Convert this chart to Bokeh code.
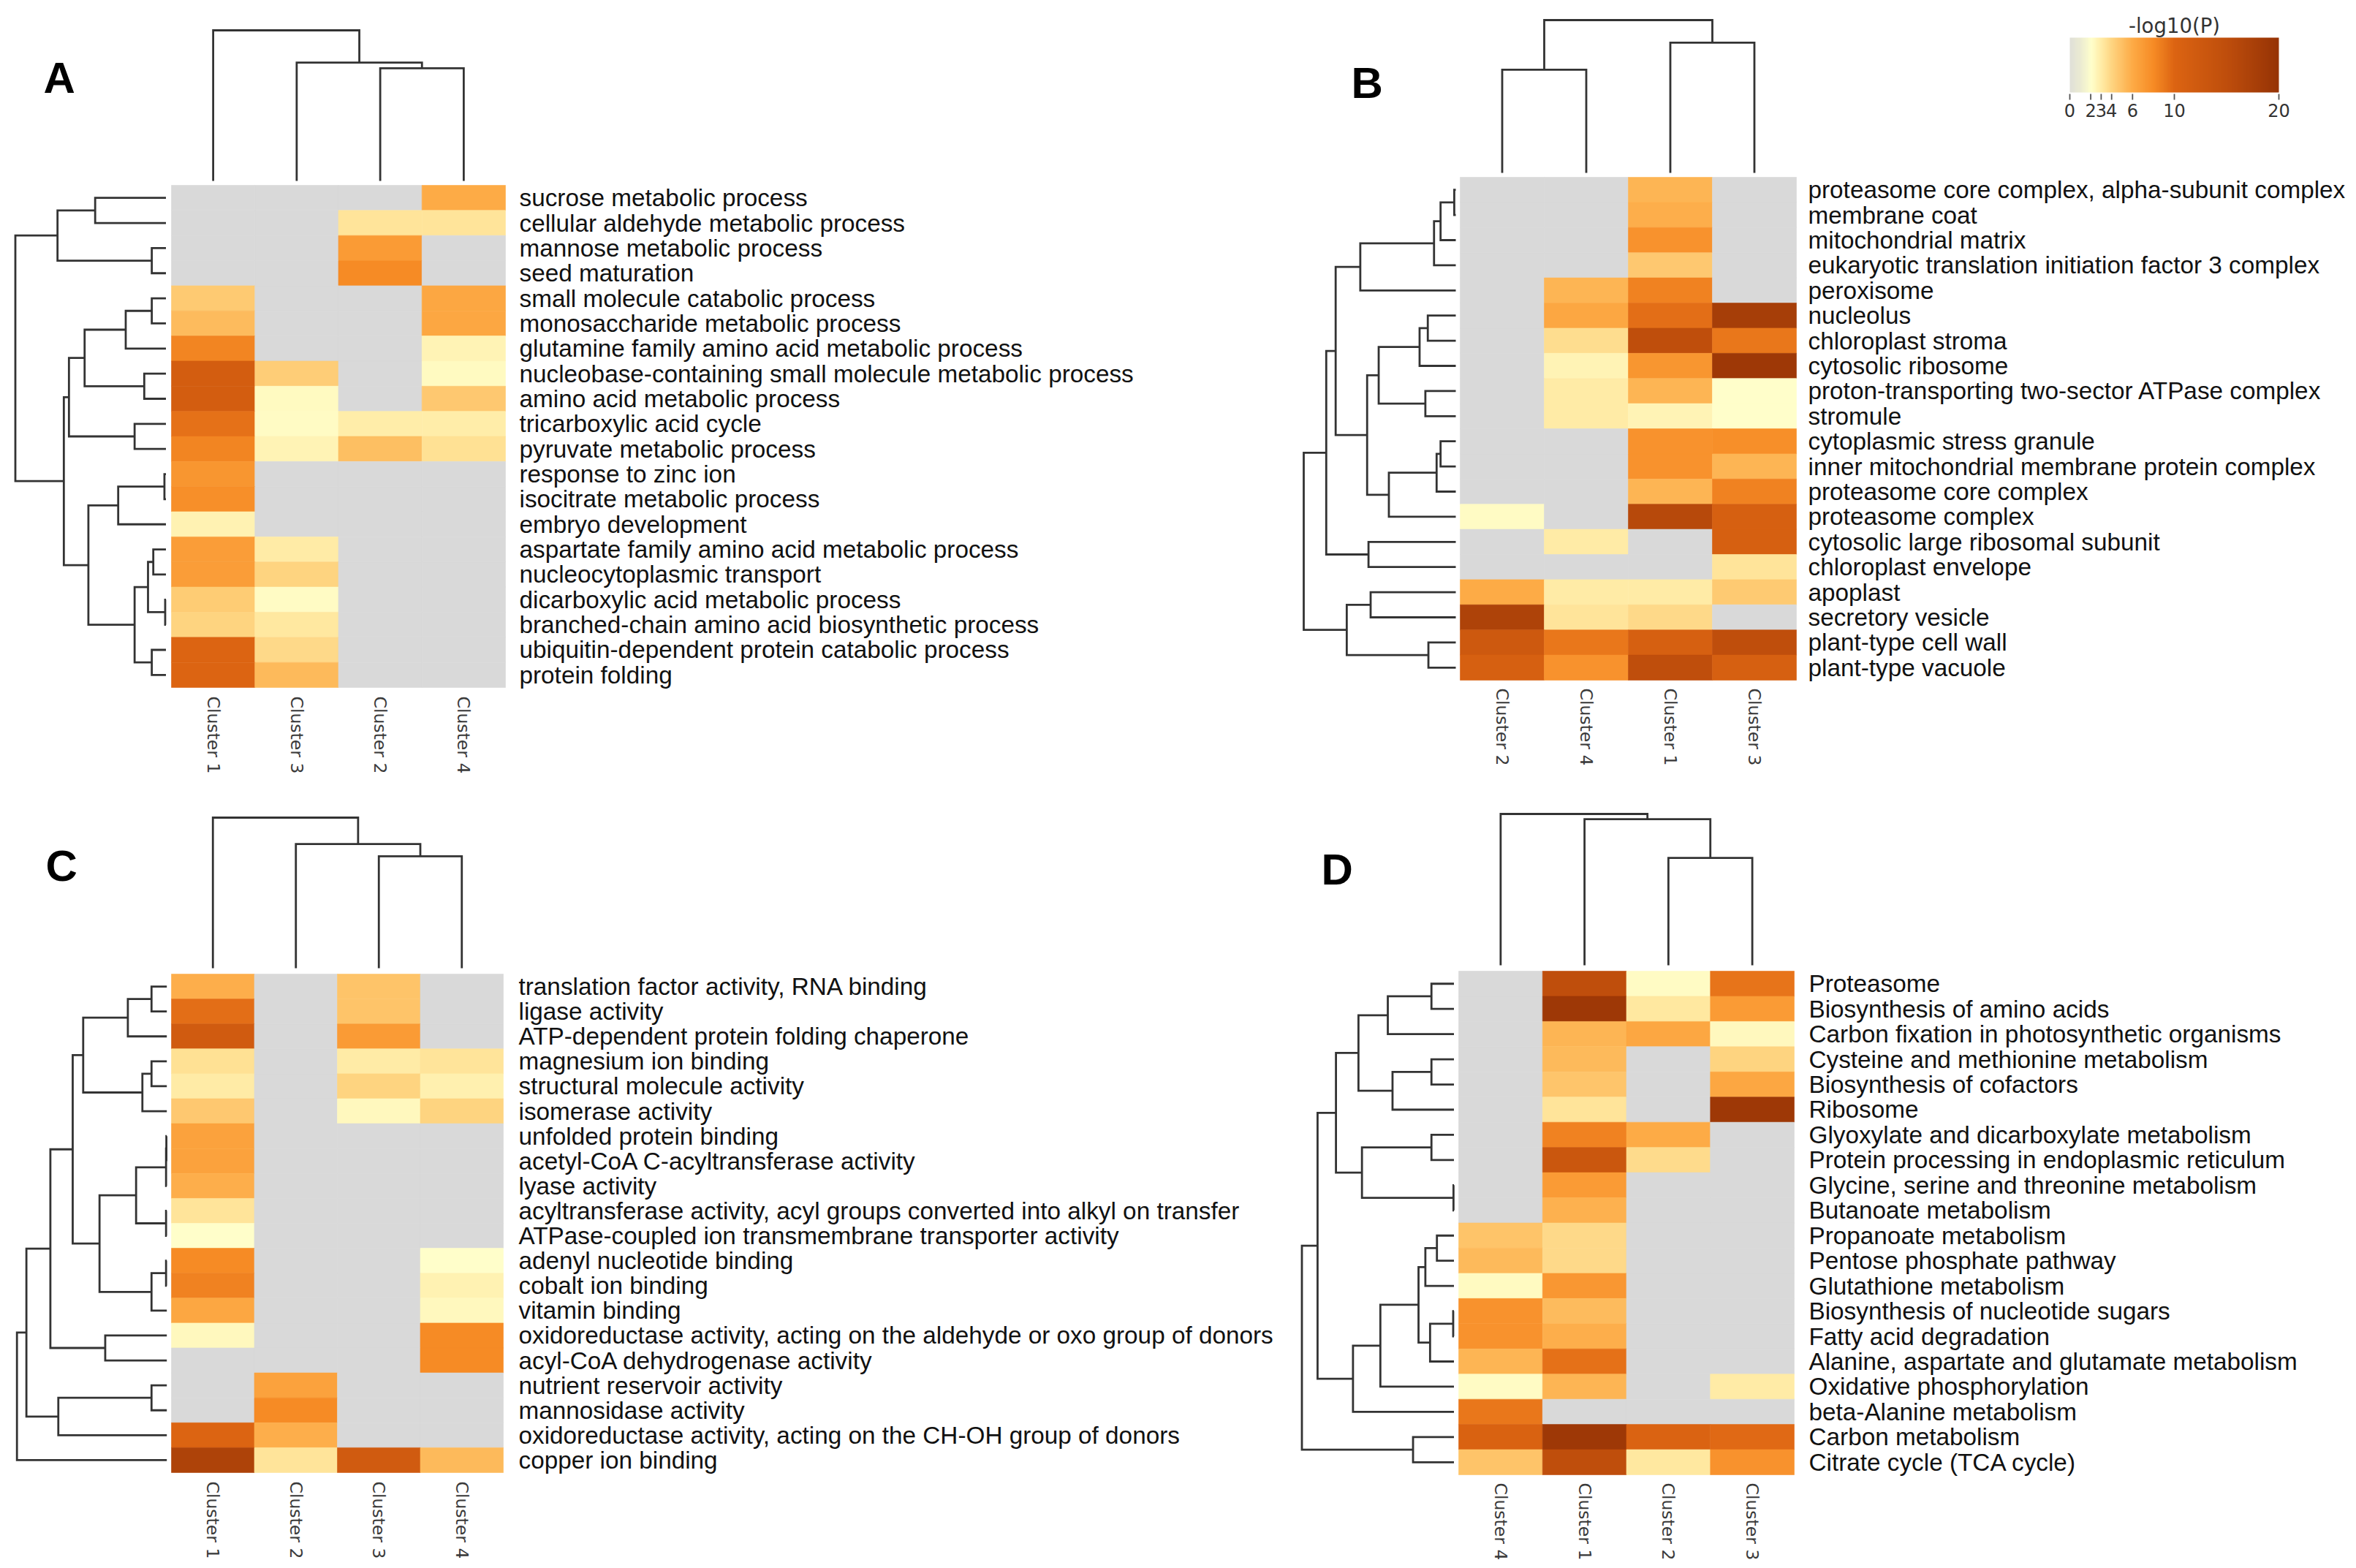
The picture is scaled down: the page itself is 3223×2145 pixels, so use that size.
import numpy as np
from bokeh.plotting import figure
from bokeh.models import ColumnDataSource, Range1d, LinearColorMapper
from bokeh.layouts import column, row
from bokeh.core.properties import value
from bokeh.embed import file_html
from bokeh.resources import INLINE

N = None

# ---------------- DATA ----------------
A_rows = ["sucrose metabolic process", "cellular aldehyde metabolic process",
          "mannose metabolic process", "seed maturation",
          "small molecule catabolic process", "monosaccharide metabolic process",
          "glutamine family amino acid metabolic process",
          "nucleobase-containing small molecule metabolic process",
          "amino acid metabolic process", "tricarboxylic acid cycle",
          "pyruvate metabolic process", "response to zinc ion",
          "isocitrate metabolic process", "embryo development",
          "aspartate family amino acid metabolic process",
          "nucleocytoplasmic transport", "dicarboxylic acid metabolic process",
          "branched-chain amino acid biosynthetic process",
          "ubiquitin-dependent protein catabolic process", "protein folding"]
A_cols = ["Cluster 1", "Cluster 3", "Cluster 2", "Cluster 4"]
A_values = [[N, N, N, 6.0], [N, N, 3.3, 3.3], [N, N, 7.0, N], [N, N, 8.0, N],
            [4.5, N, N, 6.2], [5.2, N, N, 6.2], [8.3, N, N, 2.6], [11.5, 4.3, N, 2.3],
            [11.5, 2.3, N, 4.6], [9.3, 2.2, 2.9, 2.9], [8.3, 2.6, 5.0, 3.5],
            [7.3, N, N, N], [7.8, N, N, N], [2.7, N, N, N], [6.8, 3.0, N, N],
            [6.8, 4.0, N, N], [4.4, 2.2, N, N], [4.0, 3.2, N, N], [10.0, 3.8, N, N],
            [10.0, 5.3, N, N]]
A_row_merges = [(0, 1, 0.47), (2, 3, 0.094), (20, 21, 0.72), (4, 5, 0.094),
                (23, 6, 0.267), (7, 8, 0.144), (24, 25, 0.54), (9, 10, 0.208),
                (26, 27, 0.644), (11, 12, 0.01), (29, 13, 0.317), (14, 15, 0.084),
                (16, 17, 0.005), (31, 32, 0.119), (18, 19, 0.094), (33, 34, 0.208),
                (30, 35, 0.515), (28, 36, 0.678), (22, 37, 1.0)]
A_col_merges = [(2, 3, 0.748), (1, 4, 0.786), (0, 5, 1.0)]

B_rows = ["proteasome core complex, alpha-subunit complex", "membrane coat",
          "mitochondrial matrix", "eukaryotic translation initiation factor 3 complex",
          "peroxisome", "nucleolus", "chloroplast stroma", "cytosolic ribosome",
          "proton-transporting two-sector ATPase complex", "stromule",
          "cytoplasmic stress granule", "inner mitochondrial membrane protein complex",
          "proteasome core complex", "proteasome complex",
          "cytosolic large ribosomal subunit", "chloroplast envelope", "apoplast",
          "secretory vesicle", "plant-type cell wall", "plant-type vacuole"]
B_cols = ["Cluster 2", "Cluster 4", "Cluster 1", "Cluster 3"]
B_values = [[N, N, 5.5, N], [N, N, 5.8, N], [N, N, 7.5, N], [N, N, 4.6, N],
            [N, 5.5, 8.5, N], [N, 6.2, 9.5, 18.0], [N, 3.6, 15.0, 9.0],
            [N, 2.6, 7.3, 19.0], [N, 3.0, 5.5, 2.1], [N, 3.0, 2.6, 2.1],
            [N, N, 7.5, 7.8], [N, N, 7.5, 5.5], [N, N, 5.5, 8.5], [2.2, N, 16.0, 11.0],
            [N, 3.0, N, 11.0], [N, N, N, 3.3], [6.0, 3.0, 3.0, 4.5], [17.0, 3.3, 3.8, N],
            [12.5, 9.0, 11.0, 15.0], [11.0, 7.5, 15.0, 11.0]]
B_row_merges = [(0, 1, 0.01), (20, 2, 0.10), (21, 3, 0.143), (22, 4, 0.628),
                (5, 6, 0.184), (24, 7, 0.238), (8, 9, 0.2), (25, 26, 0.507),
                (10, 11, 0.10), (28, 12, 0.126), (29, 13, 0.44), (27, 30, 0.583),
                (23, 31, 0.79), (14, 15, 0.574), (32, 33, 0.852), (16, 17, 0.56),
                (18, 19, 0.18), (35, 36, 0.717), (34, 37, 1.0)]
B_col_merges = [(0, 1, 0.675), (2, 3, 0.852), (4, 5, 1.0)]

C_rows = ["translation factor activity, RNA binding", "ligase activity",
          "ATP-dependent protein folding chaperone", "magnesium ion binding",
          "structural molecule activity", "isomerase activity",
          "unfolded protein binding", "acetyl-CoA C-acyltransferase activity",
          "lyase activity",
          "acyltransferase activity, acyl groups converted into alkyl on transfer",
          "ATPase-coupled ion transmembrane transporter activity",
          "adenyl nucleotide binding", "cobalt ion binding", "vitamin binding",
          "oxidoreductase activity, acting on the aldehyde or oxo group of donors",
          "acyl-CoA dehydrogenase activity", "nutrient reservoir activity",
          "mannosidase activity",
          "oxidoreductase activity, acting on the CH-OH group of donors",
          "copper ion binding"]
C_cols = ["Cluster 1", "Cluster 2", "Cluster 3", "Cluster 4"]
C_values = [[5.8, N, 4.8, N], [9.5, N, 4.8, N], [12.0, N, 7.0, N], [3.5, N, 3.0, 3.3],
            [3.0, N, 4.0, 2.8], [4.6, N, 2.4, 4.0], [6.5, N, N, N], [6.5, N, N, N],
            [5.8, N, N, N], [3.3, N, N, N], [2.1, N, N, N], [8.0, N, N, 2.1],
            [8.5, N, N, 2.7], [6.2, N, N, 2.4], [2.4, N, N, 8.0], [N, N, N, 8.0],
            [N, 6.5, N, N], [N, 8.0, N, N], [10.0, 5.8, N, N], [17.0, 3.3, 12.0, 5.3]]
C_row_merges = [(0, 1, 0.102), (20, 2, 0.26), (3, 4, 0.102), (22, 5, 0.163),
                (21, 23, 0.558), (6, 7, 0.003), (25, 8, 0.005), (9, 10, 0.005),
                (26, 27, 0.205), (11, 12, 0.005), (29, 13, 0.102), (28, 30, 0.449),
                (24, 31, 0.628), (14, 15, 0.411), (32, 33, 0.777), (16, 17, 0.102),
                (35, 18, 0.724), (34, 36, 0.937), (37, 19, 1.0)]
C_col_merges = [(2, 3, 0.743), (1, 4, 0.825), (0, 5, 1.0)]

D_rows = ["Proteasome", "Biosynthesis of amino acids",
          "Carbon fixation in photosynthetic organisms",
          "Cysteine and methionine metabolism", "Biosynthesis of cofactors",
          "Ribosome", "Glyoxylate and dicarboxylate metabolism",
          "Protein processing in endoplasmic reticulum",
          "Glycine, serine and threonine metabolism", "Butanoate metabolism",
          "Propanoate metabolism", "Pentose phosphate pathway",
          "Glutathione metabolism", "Biosynthesis of nucleotide sugars",
          "Fatty acid degradation", "Alanine, aspartate and glutamate metabolism",
          "Oxidative phosphorylation", "beta-Alanine metabolism",
          "Carbon metabolism", "Citrate cycle (TCA cycle)"]
D_cols = ["Cluster 4", "Cluster 1", "Cluster 2", "Cluster 3"]
D_values = [[N, 15.0, 2.2, 9.2], [N, 19.0, 3.2, 7.0], [N, 5.5, 6.2, 2.4],
            [N, 5.3, N, 4.0], [N, 4.7, N, 6.2], [N, 3.3, N, 19.0], [N, 8.5, 6.0, N],
            [N, 13.0, 3.7, N], [N, 7.0, N, N], [N, 5.7, N, N], [4.8, 3.8, N, N],
            [5.3, 3.8, N, N], [2.3, 7.2, N, N], [7.5, 5.2, N, N], [7.5, 5.8, N, N],
            [5.5, 9.3, N, N], [2.2, 5.5, N, 3.0], [9.0, N, N, N],
            [10.5, 19.0, 10.3, 9.7], [4.8, 15.0, 3.2, 7.5]]
D_row_merges = [(0, 1, 0.148), (20, 2, 0.435), (3, 4, 0.148), (22, 5, 0.404),
                (21, 23, 0.628), (6, 7, 0.148), (8, 9, 0.003), (25, 26, 0.605),
                (24, 27, 0.776), (10, 11, 0.112), (29, 12, 0.188), (13, 14, 0.005),
                (31, 15, 0.157), (30, 32, 0.233), (33, 16, 0.484), (34, 17, 0.664),
                (28, 35, 0.897), (18, 19, 0.269), (36, 37, 1.0)]
D_col_merges = [(2, 3, 0.71), (1, 4, 0.966), (0, 5, 1.0)]

cbar_ticks = [0, 2, 3, 4, 6, 10, 20]
cbar_title = "-log10(P)"
v_low, v_high = 0, 20

# ---------------- STYLE / COLOR MAP ----------------
stops = [(0, "#e0e0d8"), (1, "#ececd2"), (2, "#ffffcc"), (3, "#ffeba5"),
         (4, "#fed480"), (6, "#fdaa45"), (8, "#f68b25"), (10, "#dc6412"),
         (15, "#bf4e0c"), (20, "#963305")]


def _rgb(h):
    return tuple(int(h[i:i + 2], 16) for i in (1, 3, 5))


palette = []
for k in range(256):
    v = v_low + (v_high - v_low) * k / 255
    for (a, ca), (b, cb) in zip(stops[:-1], stops[1:]):
        if a <= v <= b:
            t = (v - a) / (b - a)
            r1, g1, b1 = _rgb(ca)
            r2, g2, b2 = _rgb(cb)
            palette.append("#%02x%02x%02x" % (round(r1 + (r2 - r1) * t),
                                              round(g1 + (g2 - g1) * t),
                                              round(b1 + (b2 - b1) * t)))
            break

mapper = LinearColorMapper(palette=palette, low=v_low, high=v_high, nan_color="#d9d9d9")

FONT = value("Liberation Sans")
FONT2 = value("DejaVu Sans")
LINE_C = "#333333"

# panel layout (page pixels of the reference)
panels = [
    dict(name="A", box=(0, 0, 1611, 1072), heat=(234, 253, 691, 940),
         ldg=(7.5, 206), tdg=(6, 206), letter=(59, 106), pad=19, cgap=12,
         rows=A_rows, cols=A_cols, vals=A_values, rm=A_row_merges, cm=A_col_merges),
    dict(name="B", box=(1611, 0, 1602, 1072), heat=(1997, 242, 2457, 930),
         ldg=(6, 208), tdg=(6, 209), letter=(1848, 113), pad=16, cgap=11,
         rows=B_rows, cols=B_cols, vals=B_values, rm=B_row_merges, cm=B_col_merges),
    dict(name="C", box=(0, 1072, 1770, 1070), heat=(234, 1332, 688, 2014),
         ldg=(6.3, 205), tdg=(8, 206), letter=(62, 1184), pad=21, cgap=12,
         rows=C_rows, cols=C_cols, vals=C_values, rm=C_row_merges, cm=C_col_merges),
    dict(name="D", box=(1770, 1072, 1443, 1070), heat=(1995, 1328, 2454, 2017),
         ldg=(6.5, 208), tdg=(8, 207), letter=(1807, 1189), pad=20, cgap=11,
         rows=D_rows, cols=D_cols, vals=D_values, rm=D_row_merges, cm=D_col_merges),
]


def dendro_paths(merges, n):
    pos = {i: i + 0.5 for i in range(n)}
    hgt = {i: 0.0 for i in range(n)}
    out = []
    for k, (a, b, h) in enumerate(merges):
        out.append(([hgt[a], h, h, hgt[b]], [pos[a], pos[a], pos[b], pos[b]]))
        pos[n + k] = (pos[a] + pos[b]) / 2
        hgt[n + k] = h
    return out


def build(cfg):
    ox, oy, W, H = cfg["box"]
    L, T, R, B = cfg["heat"]
    rows_, cols_, vals = cfg["rows"], cfg["cols"], cfg["vals"]
    nr, nc = len(rows_), len(cols_)
    cw = (R - L) / nc
    ch = (B - T) / nr

    def px(x):
        return (x - L) / cw

    def py(y):
        return (y - T) / ch

    p = figure(width=W, height=H,
               x_range=Range1d(px(ox), px(ox + W)),
               y_range=Range1d(py(oy + H), py(oy)),
               output_backend="svg", toolbar_location=None,
               x_axis_location=None, y_axis_location=None, min_border=0)
    p.outline_line_color = None
    p.background_fill_color = "white"
    p.border_fill_color = "white"
    p.grid.visible = False

    # heatmap cells
    l, r, t, b, v = [], [], [], [], []
    for i in range(nr):
        for j in range(nc):
            l.append(j); r.append(j + 1); t.append(i); b.append(i + 1)
            val = vals[i][j]
            v.append(np.nan if val is None else val)
    src = ColumnDataSource(dict(l=l, r=r, t=t, b=b, v=v))
    p.quad(left="l", right="r", top="t", bottom="b", source=src,
           fill_color={"field": "v", "transform": mapper},
           line_color={"field": "v", "transform": mapper}, line_width=0.6)

    # row labels
    p.text(x=[nc + cfg["pad"] / cw] * nr, y=[i + 0.5 for i in range(nr)], text=rows_,
           text_font=FONT, text_font_size="33.3px", text_color="#111111",
           text_align="left", text_baseline="middle")

    # column labels (rotated)
    p.text(x=[j + 0.5 for j in range(nc)], y=[nr + cfg["cgap"] / ch] * nc, text=cols_,
           angle=-np.pi / 2, text_font=FONT2, text_font_size="23.5px", text_color="#3a3a3a",
           text_align="left", text_baseline="middle")

    # left (row) dendrogram
    g, s = cfg["ldg"]
    xs, ys = [], []
    for hh, pp in dendro_paths(cfg["rm"], nr):
        xs.append([-(g + h * s) / cw for h in hh])
        ys.append(pp)
    # top (column) dendrogram
    g2, s2 = cfg["tdg"]
    for hh, pp in dendro_paths(cfg["cm"], nc):
        xs.append(pp)
        ys.append([-(g2 + h * s2) / ch for h in hh])
    p.multi_line(xs=xs, ys=ys, line_color=LINE_C, line_width=2.8, line_join="miter")

    # panel letter
    lx, ly = cfg["letter"]
    p.text(x=[px(lx)], y=[py(ly)], text=[cfg["name"]], text_font=FONT,
           text_font_size="60px", text_font_style="bold", text_color="#000000",
           text_align="left", text_baseline="alphabetic")

    return p, px, py


figs = []
for cfg in panels:
    fig, px, py = build(cfg)
    if cfg["name"] == "B":
        # colour bar
        bx0, bx1, by0, by1 = 2831, 3117, 51, 126
        grad = np.linspace(v_low, v_high, 400).reshape(1, -1)
        fig.image(image=[grad], x=px(bx0), y=py(by0), dw=px(bx1) - px(bx0),
                  dh=py(by1) - py(by0), color_mapper=mapper)
        tx = [px(bx0 + (tv - v_low) / (v_high - v_low) * (bx1 - bx0)) for tv in cbar_ticks]
        fig.segment(x0=tx, y0=[py(128)] * len(tx), x1=tx, y1=[py(136)] * len(tx),
                    line_color="#555555", line_width=1.8)
        fig.text(x=tx, y=[py(141)] * len(tx), text=[str(tv) for tv in cbar_ticks],
                 text_font=FONT2, text_font_size="24px", text_color="#333333",
                 text_align="center", text_baseline="top")
        fig.text(x=[px((bx0 + bx1) / 2)], y=[py(34)], text=[cbar_title],
                 text_font=FONT2, text_font_size="27.5px", text_color="#333333",
                 text_align="center", text_baseline="alphabetic")
    figs.append(fig)

layout = column(row(figs[0], figs[1]), row(figs[2], figs[3]))
open("out.html", "w").write(file_html(layout, INLINE))
